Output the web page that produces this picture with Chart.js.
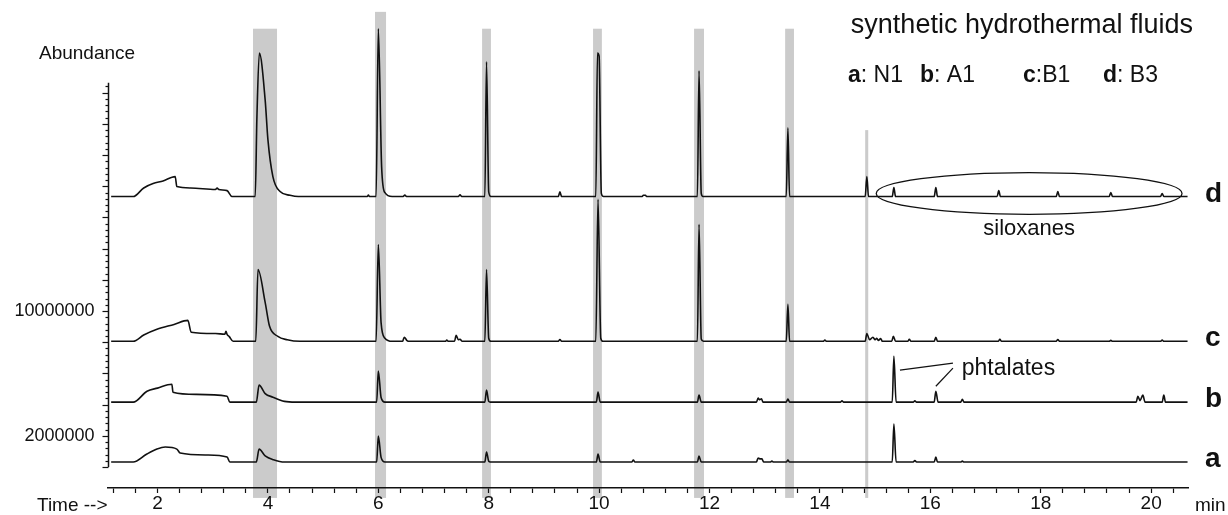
<!DOCTYPE html>
<html>
<head>
<meta charset="utf-8">
<script src="https://cdn.jsdelivr.net/npm/chart.js@4.4.1/dist/chart.umd.min.js"></script>
<style>
  html, body { margin: 0; padding: 0; background: #fff; }
  canvas { display: block; }
</style>
</head>
<body>
<canvas id="chromChart" width="1228" height="515"></canvas>
<script>
// abundance is kept in millions, tick labels print the full count
const UNIT = 1e6;

// vertical offset of each stacked trace (millions)
const traceNames = ['a', 'b', 'c', 'd'];
const traceOffset = [0.32, 4.16, 8.06, 17.34];

// ---- trace a : N1 ----
const aTime = [1.16, 1.56, 1.8, 1.99, 2.14, 2.35, 2.41, 2.9, 3.26, 3.31, 3.79, 3.84, 3.95, 4.1, 4.3,
  5.97, 6.0, 6.05, 6.12, 7.93, 7.96, 8.0, 8.03, 9.95, 9.98, 10.02, 10.59, 10.62, 10.65,
  11.78, 11.81, 11.85, 12.85, 12.88, 12.92, 12.95, 12.98, 13.1, 13.13, 13.16, 13.39, 13.42, 13.45,
  15.31, 15.34, 15.38, 15.69, 15.72, 15.75, 16.07, 16.1, 16.13, 16.55, 16.58, 16.61, 20.66];
const aAbund = [0, 0, 0.5, 0.83, 0.96, 0.83, 0.58, 0.45, 0.32, 0, 0, 0.83, 0.4, 0.15, 0,
  0, 1.66, 0.3, 0, 0, 0.64, 0.05, 0, 0, 0.51, 0, 0, 0.13, 0,
  0, 0.38, 0, 0, 0.26, 0.2, 0.2, 0, 0, 0.06, 0, 0, 0.13, 0,
  0, 2.43, 0, 0, 0.1, 0, 0, 0.32, 0, 0, 0.06, 0, 0];

// ---- trace b : A1 ----
const bTime = [1.16, 1.56, 1.81, 2.0, 2.26, 2.28, 2.7, 3.26, 3.31, 3.79, 3.84, 3.95, 4.09, 4.3, 4.5,
  5.97, 6.0, 6.05, 6.12, 7.93, 7.96, 8.0, 8.03, 9.95, 9.98, 10.02, 11.78, 11.81, 11.85,
  12.85, 12.88, 12.91, 12.94, 12.97, 13.39, 13.42, 13.45, 14.37, 14.4, 14.43,
  15.31, 15.34, 15.38, 15.69, 15.72, 15.75, 16.07, 16.1, 16.14, 16.55, 16.58, 16.61,
  19.73, 19.76, 19.8, 19.85, 19.89, 20.2, 20.23, 20.26, 20.66];
const bAbund = [0, 0, 0.7, 0.9, 1.15, 0.64, 0.5, 0.38, 0, 0, 1.09, 0.55, 0.32, 0.05, 0,
  0, 2.0, 0.3, 0, 0, 0.77, 0.05, 0, 0, 0.64, 0, 0, 0.45, 0,
  0, 0.26, 0.15, 0.22, 0, 0, 0.2, 0, 0, 0.08, 0,
  0, 2.94, 0, 0, 0.08, 0, 0, 0.7, 0, 0, 0.19, 0,
  0, 0.38, 0.1, 0.45, 0, 0, 0.45, 0, 0];

// ---- trace c : B1 ----
const cTime = [1.16, 1.56, 1.75, 1.99, 2.3, 2.55, 2.61, 3.05, 3.22, 3.24, 3.26, 3.3, 3.37,
  3.78, 3.82, 3.95, 4.03, 4.18, 4.35, 4.58, 5.96, 6.0, 6.05, 6.12, 6.25,
  6.44, 6.47, 6.52, 6.56, 7.22, 7.24, 7.27, 7.38, 7.41, 7.45, 7.48, 7.52,
  7.93, 7.96, 8.0, 8.04, 9.26, 9.29, 9.32, 9.94, 9.98, 10.03, 10.07,
  11.78, 11.81, 11.85, 11.89, 13.39, 13.42, 13.45, 14.06, 14.09, 14.12,
  14.82, 14.85, 14.9, 14.96, 15.0, 15.03, 15.06, 15.1, 15.13, 15.3, 15.33, 15.37,
  15.59, 15.62, 15.65, 16.07, 16.1, 16.13, 17.23, 17.26, 17.29, 18.28, 18.31, 18.34,
  19.24, 19.27, 19.3, 20.17, 20.2, 20.23, 20.66];
const cAbund = [0, 0, 0.4, 0.77, 1.08, 1.34, 0.58, 0.5, 0.45, 0.64, 0.45, 0.3, 0,
  0, 4.6, 2.5, 0.96, 0.32, 0.1, 0, 0, 6.2, 1.2, 0.2, 0,
  0, 0.26, 0.05, 0, 0, 0.08, 0, 0, 0.38, 0.1, 0.13, 0,
  0, 4.6, 0.2, 0, 0, 0.12, 0, 0, 9.1, 0.2, 0,
  0, 7.5, 0.15, 0, 0, 2.37, 0, 0, 0.08, 0,
  0, 0.5, 0.1, 0.26, 0.1, 0.2, 0.05, 0.18, 0, 0, 0.32, 0,
  0, 0.13, 0, 0, 0.26, 0, 0, 0.13, 0, 0, 0.12, 0,
  0, 0.06, 0, 0, 0.08, 0, 0];

// ---- trace d : B3 ----
const dTime = [1.16, 1.56, 1.75, 1.92, 2.1, 2.32, 2.35, 2.6, 3.05, 3.08, 3.11, 3.26, 3.35,
  3.77, 3.8, 3.845, 3.95, 4.0, 4.09, 4.22, 4.4, 4.55, 5.8, 5.82, 5.84,
  5.96, 6.0, 6.06, 6.12, 6.25, 6.45, 6.48, 6.51, 7.45, 7.48, 7.51,
  7.93, 7.96, 8.0, 8.04, 9.26, 9.29, 9.32, 9.94, 9.97, 10.0, 10.04, 10.08,
  10.78, 10.8, 10.84, 10.86, 11.78, 11.81, 11.85, 11.88, 13.39, 13.42, 13.45,
  14.82, 14.85, 14.88, 15.31, 15.34, 15.37, 16.07, 16.1, 16.13, 17.21, 17.24, 17.27,
  18.28, 18.31, 18.34, 19.24, 19.27, 19.3, 20.17, 20.2, 20.23, 20.66];
const dAbund = [0, 0, 0.55, 0.83, 1.0, 1.28, 0.64, 0.55, 0.45, 0.55, 0.45, 0.38, 0,
  0, 5.0, 9.2, 6.2, 3.65, 1.28, 0.32, 0.08, 0, 0, 0.1, 0,
  0, 10.75, 1.9, 0.25, 0, 0, 0.1, 0, 0, 0.12, 0,
  0, 8.64, 0.3, 0, 0, 0.3, 0, 0, 9.2, 9.0, 0.2, 0,
  0, 0.08, 0.08, 0, 0, 8.06, 0.2, 0, 0, 4.4, 0,
  0, 1.28, 0, 0, 0.58, 0, 0, 0.58, 0, 0, 0.38, 0,
  0, 0.32, 0, 0, 0.26, 0, 0, 0.2, 0, 0];

// grey marker bands (min) and their top (millions)
const bandStart = [3.73, 5.94, 7.88, 9.89, 11.72, 13.37, 14.82];
const bandEnd   = [4.165, 6.14, 8.04, 10.05, 11.9, 13.53, 14.875];
const bandTop   = [28.1, 29.18, 28.1, 28.1, 28.1, 28.1, 21.6];
const bandBottom = -1.98;

// axis ticks
const xLabelValues = [2, 4, 6, 8, 10, 12, 14, 16, 18, 20];
const yLabelValues = [2, 10];
const yAxisTop = 24.64;

// siloxane ellipse (centre min / millions, radii)
const siloxEllipse = { t: 17.79, v: 17.54, rt: 2.77, rv: 1.34 };
// phtalate leader lines [t0, v0, t1, v1]
const phtLines = [[15.45, 6.21, 16.41, 6.66], [16.1, 5.18, 16.41, 6.34]];

const INK = '#111';
const FONT = '"Liberation Sans", Arial, Helvetica, sans-serif';

const traceSets = [[aTime, aAbund], [bTime, bAbund], [cTime, cAbund], [dTime, dAbund]];
const datasets = traceSets.map(([tt, vv], i) => ({
  label: traceNames[i],
  data: tt.map((t, k) => ({ x: t, y: traceOffset[i] + vv[k] })),
  borderColor: INK,
  borderWidth: 1.6,
  pointRadius: 0,
  cubicInterpolationMode: 'monotone',
  fill: false,
}));

function txt(ctx, s, x, y, font, align) {
  ctx.font = font;
  ctx.textAlign = align || 'left';
  ctx.fillText(s, x, y);
}

const overlay = {
  id: 'overlay',
  beforeDraw(chart) {
    const { ctx, scales: { x, y } } = chart;
    ctx.save();
    ctx.fillStyle = '#cbcbcb';
    bandStart.forEach((s, i) => {
      const x0 = x.getPixelForValue(s);
      const x1 = x.getPixelForValue(bandEnd[i]);
      const y0 = y.getPixelForValue(bandTop[i]);
      const y1 = y.getPixelForValue(bandBottom);
      ctx.fillRect(x0, y0, x1 - x0, y1 - y0);
    });
    ctx.restore();
  },
  afterDraw(chart) {
    const { ctx, chartArea, scales: { x, y } } = chart;
    ctx.save();
    ctx.strokeStyle = INK;
    ctx.fillStyle = INK;

    // y axis with minor/major ticks
    const ax = chartArea.left + 0.5;
    ctx.lineWidth = 1.5;
    ctx.beginPath();
    ctx.moveTo(ax, y.getPixelForValue(0));
    ctx.lineTo(ax, y.getPixelForValue(yAxisTop));
    ctx.stroke();
    ctx.lineWidth = 1.2;
    for (let k = 0; k * 0.4 <= yAxisTop; k++) {
      const py = Math.round(y.getPixelForValue(k * 0.4)) + 0.5;
      const len = k % 5 === 0 ? 6 : 3;
      ctx.beginPath();
      ctx.moveTo(ax - len, py);
      ctx.lineTo(ax, py);
      ctx.stroke();
    }
    ctx.textBaseline = 'middle';
    yLabelValues.forEach(v => {
      txt(ctx, String(v * UNIT), ax - 14, y.getPixelForValue(v), '18px ' + FONT, 'right');
    });

    ctx.textBaseline = 'alphabetic';
    txt(ctx, 'Abundance', 39, 59, '19px ' + FONT);
    txt(ctx, 'Time -->', 37, 511, '19px ' + FONT);
    txt(ctx, 'min', 1195, 511, '19px ' + FONT);

    // title and sample key
    txt(ctx, 'synthetic hydrothermal fluids', 1193, 33, '27px ' + FONT, 'right');
    const keyX = [848, 920, 1023, 1103];
    const keyName = [': N1', ': A1', ':B1', ': B3'];
    traceNames.forEach((n, i) => {
      ctx.font = 'bold 23px ' + FONT;
      ctx.textAlign = 'left';
      ctx.fillText(n, keyX[i], 82);
      const w = ctx.measureText(n).width;
      txt(ctx, keyName[i], keyX[i] + w, 82, '23px ' + FONT);
    });

    // trace letters on the right
    traceNames.forEach((n, i) => {
      txt(ctx, n, 1205, y.getPixelForValue(traceOffset[i]) + 5, 'bold 28px ' + FONT);
    });

    // siloxanes ellipse
    const e = siloxEllipse;
    const cx = x.getPixelForValue(e.t), cy = y.getPixelForValue(e.v);
    const rx = x.getPixelForValue(e.t + e.rt) - cx;
    const ry = cy - y.getPixelForValue(e.v + e.rv);
    ctx.lineWidth = 1.3;
    ctx.beginPath();
    ctx.ellipse(cx, cy, rx, ry, 0, 0, Math.PI * 2);
    ctx.stroke();
    txt(ctx, 'siloxanes', cx, 235, '22px ' + FONT, 'center');

    // phtalates label
    ctx.lineWidth = 1.2;
    phtLines.forEach(([t0, v0, t1, v1]) => {
      ctx.beginPath();
      ctx.moveTo(x.getPixelForValue(t0), y.getPixelForValue(v0));
      ctx.lineTo(x.getPixelForValue(t1), y.getPixelForValue(v1));
      ctx.stroke();
    });
    txt(ctx, 'phtalates', x.getPixelForValue(16.57), 375, '23px ' + FONT);
    ctx.restore();
  }
};

const chromChart = new Chart(document.getElementById('chromChart'), {
  type: 'line',
  data: { datasets },
  options: {
    responsive: false,
    animation: false,
    layout: { padding: { left: 108, right: 40, top: 10, bottom: 1 } },
    plugins: { legend: { display: false }, tooltip: { enabled: false } },
    scales: {
      x: {
        type: 'linear',
        min: 1.103,
        max: 20.668,
        border: { display: true, color: INK, width: 1.5 },
        grid: { drawOnChartArea: false, drawTicks: true, tickLength: 5, tickColor: INK, tickWidth: 1.2 },
        ticks: {
          stepSize: 0.4,
          includeBounds: false,
          autoSkip: false,
          maxRotation: 0,
          padding: 1,
          color: INK,
          font: { family: FONT, size: 19, lineHeight: 1 },
          callback: v => xLabelValues.some(l => Math.abs(l - v) < 1e-6) ? String(Math.round(v)) : ''
        }
      },
      y: {
        type: 'linear',
        display: false,
        min: -1.344,
        max: 29.3
      }
    }
  },
  plugins: [overlay]
});
</script>
</body>
</html>
